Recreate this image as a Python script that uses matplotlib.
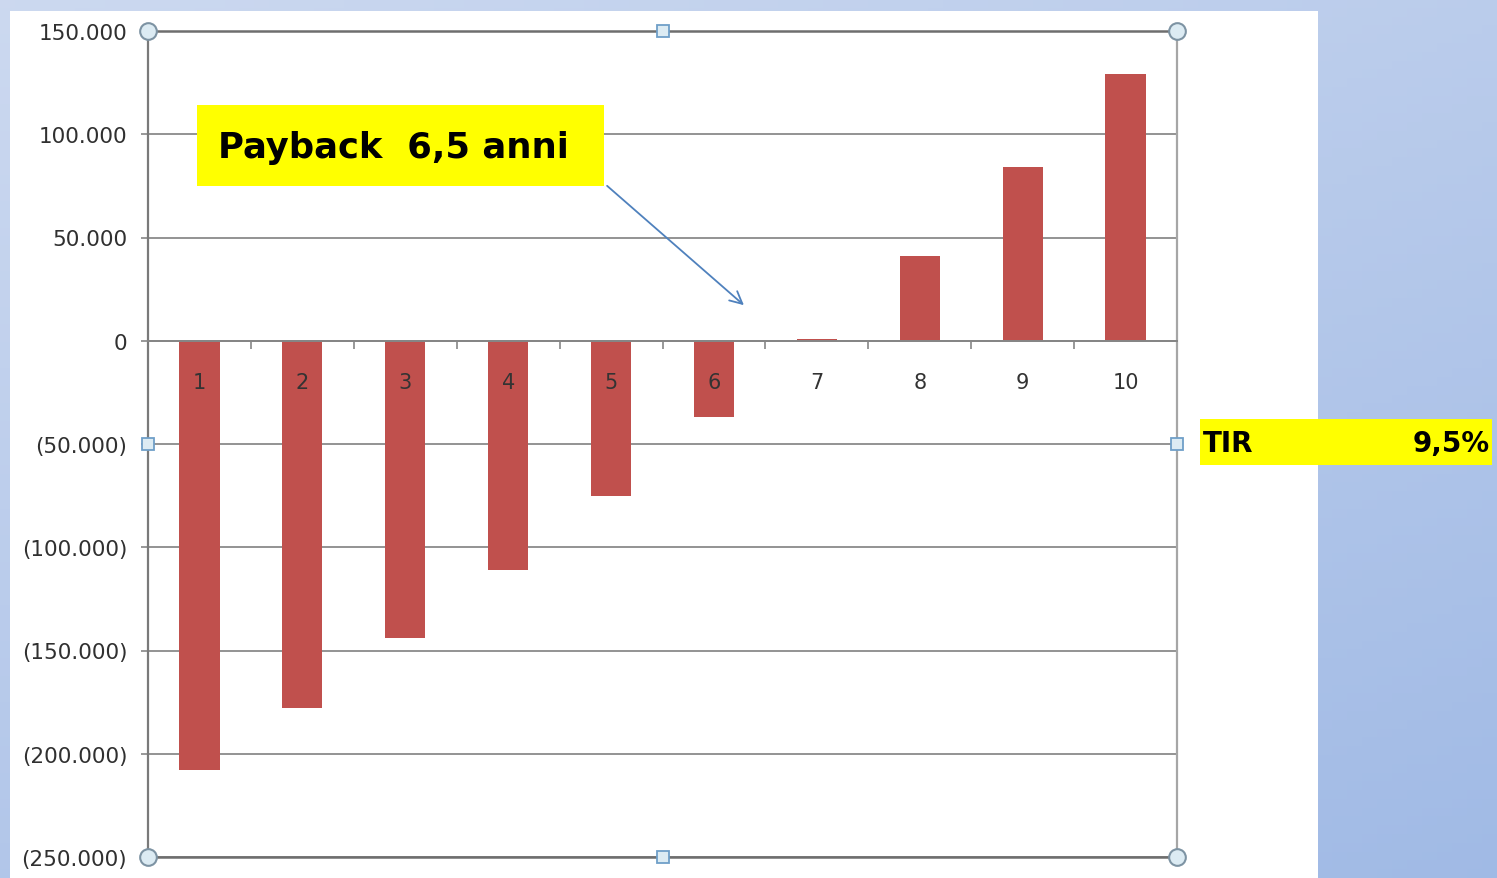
import numpy as np
import matplotlib
matplotlib.use('Agg')
import matplotlib.pyplot as plt
from matplotlib.patches import Rectangle
from matplotlib.ticker import FuncFormatter, FixedLocator

# data
years = [1, 2, 3, 4, 5, 6, 7, 8, 9, 10]
cash_flow = [-208000, -178000, -144000, -111000, -75000, -37000, 1000, 41000, 84000, 129000]
y_ticks = [-250000, -200000, -150000, -100000, -50000, 0, 50000, 100000, 150000]
payback_text = "Payback  6,5 anni"
tir_label = "TIR"
tir_value = "9,5%"

W, H = 1497, 879
plt.rcParams['font.family'] = ['DejaVu Sans']

fig = plt.figure(figsize=(W / 100, H / 100), dpi=100)

# blue gradient background
bg = fig.add_axes([0, 0, 1, 1])
bg.axis('off')
gy, gx = np.mgrid[0:1:100j, 0:1:100j]
c0 = np.array([0.80, 0.85, 0.94])
c1 = np.array([0.63, 0.73, 0.90])
t = (0.6 * gy + 0.4 * gx)[..., None]
bg.imshow(c0 * (1 - t) + c1 * t, extent=[0, 1, 0, 1], aspect='auto', zorder=0)
bg.set_xlim(0, 1)
bg.set_ylim(0, 1)
# white chart panel
bg.add_patch(Rectangle((10 / W, 0), (1318 - 10) / W, (H - 12) / H,
                       facecolor='white', edgecolor='none', zorder=1))

# plot area
ax = fig.add_axes([148 / W, 1 - 858 / H, (1177 - 148) / W, (858 - 32) / H])
ax.patch.set_alpha(0)

ax.bar(years, cash_flow, width=0.39, color='#c0504d', zorder=2)
ax.set_xlim(0.5, 10.5)
ax.set_ylim(-250000, 150000)

def fmt(v, pos):
    v = int(round(v))
    if v == 0:
        return "0"
    s = f"{abs(v):,}".replace(",", ".")
    return s if v > 0 else f"({s})"

ax.yaxis.set_major_locator(FixedLocator(y_ticks))
ax.yaxis.set_major_formatter(FuncFormatter(fmt))
ax.tick_params(axis='y', length=5, width=1.2, color='#868686', pad=10,
               labelsize=15.5, labelcolor='#303030')
ax.grid(axis='y', color='#8a8a8a', lw=1.3, zorder=0)
ax.set_axisbelow(True)

ax.set_xticks([])
ax.set_xticks([y + 0.5 for y in years[:-1]], minor=True)
ax.tick_params(axis='x', which='minor', direction='out', length=6,
               width=1.2, color='#868686', labelbottom=False)

ax.spines['top'].set_visible(False)
ax.spines['bottom'].set_position(('data', 0))
ax.spines['bottom'].set_color('#868686')
ax.spines['bottom'].set_linewidth(1.4)
ax.spines['left'].set_color('#7a7a7a')
ax.spines['left'].set_linewidth(1.6)
ax.spines['right'].set_color('#a6a6a6')
ax.spines['right'].set_linewidth(1.6)

# top and bottom frame of the selected plot area
for fy in (0, 1):
    ax.plot([0, 1], [fy, fy], color='#6e6e6e', lw=1.8,
            transform=ax.transAxes, clip_on=False, zorder=3)

# category labels on top of the bars
for y in years:
    ax.annotate(str(y), (y, 0), xytext=(0, -30), textcoords='offset points',
                ha='center', va='center', fontsize=15, color='#333333', zorder=5)

# selection handles of the plot area
for hx, hy in [(0, 0), (0, 1), (1, 0), (1, 1)]:
    ax.plot(hx, hy, 'o', ms=12, mfc='#dcebf3', mec='#7d93a3', mew=1.5,
            transform=ax.transAxes, clip_on=False, zorder=6)
for hx, hy in [(0.5, 0), (0.5, 1), (0, 0.5), (1, 0.5)]:
    ax.plot(hx, hy, 's', ms=8.5, mfc='#dcebf3', mec='#6f9fc8', mew=1.3,
            transform=ax.transAxes, clip_on=False, zorder=6)

# overlay for the text boxes, above the plot
fg = fig.add_axes([0, 0, 1, 1])
fg.axis('off')
fg.set_xlim(0, 1)
fg.set_ylim(0, 1)

# payback box
fg.add_patch(Rectangle((197 / W, 1 - 187 / H), (604 - 197) / W, (187 - 106) / H,
                       facecolor='#ffff00', edgecolor='none', zorder=3))
fg.text(218 / W, 1 - 148 / H, payback_text, fontsize=25.5, fontweight='bold',
        ha='left', va='center', color='black', zorder=4)
fg.annotate('', xy=(746 / W, 1 - 308 / H), xytext=(605 / W, 1 - 185 / H),
            arrowprops=dict(arrowstyle='->', color='#4f81bd', lw=1.3,
                            mutation_scale=22), zorder=4)

# TIR box
fg.add_patch(Rectangle((1200 / W, 1 - 466 / H), (1492 - 1200) / W, (466 - 420) / H,
                       facecolor='#ffff00', edgecolor='none', zorder=3))
fg.text(1203 / W, 1 - 444 / H, tir_label, fontsize=20, fontweight='bold',
        ha='left', va='center', color='black', zorder=4)
fg.text(1490 / W, 1 - 444 / H, tir_value, fontsize=20, fontweight='bold',
        ha='right', va='center', color='black', zorder=4)

fig.savefig('out.png', dpi=100)
